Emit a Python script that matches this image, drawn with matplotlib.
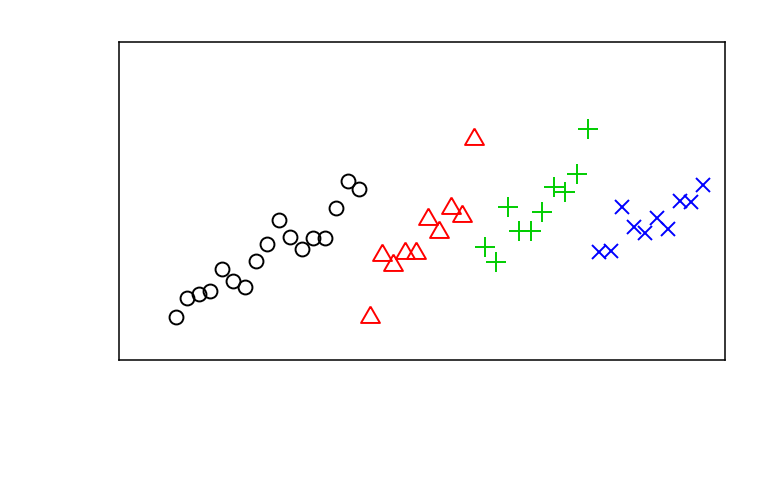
import numpy as np
import matplotlib
matplotlib.use("Agg")
import matplotlib.pyplot as plt

# index of each observation (4..50), grouped
idx_a = np.arange(4, 21)
idx_b = np.arange(21, 31)
idx_c = np.arange(31, 41)
idx_d = np.arange(41, 51)

# values
val_a = [4.3, 6.2, 6.6, 6.9, 9.1, 7.9, 7.3, 9.9, 11.6, 14.0, 12.3, 11.1, 12.2, 12.2, 15.2, 17.9, 17.1]
val_b = [4.3, 10.5, 9.5, 10.7, 10.7, 14.1, 12.8, 15.2, 14.4, 22.1]
val_c = [11.3, 9.8, 15.3, 12.9, 12.9, 14.8, 17.3, 16.8, 18.6, 23.1]
val_d = [10.8, 10.9, 15.3, 13.3, 12.7, 14.2, 13.1, 15.9, 15.8, 17.5]

fig = plt.figure(figsize=(7.68, 4.8), dpi=100)
ax = fig.add_axes([119/768, 120/480, 606/768, 318/480])

lw = 1.4
# R style triangle (pch 2), centred on centroid
tri = [(0, 1.555), (1.347, -0.778), (-1.347, -0.778), (0, 1.555)]

ax.plot(idx_a, val_a, linestyle="none", marker="o", markersize=10, mfc="none", mec="black", mew=lw)
ax.plot(idx_b, val_b, linestyle="none", marker=tri, markersize=15.7, mfc="none", mec="#FF0000", mew=lw)
ax.plot(idx_c, val_c, linestyle="none", marker="+", markersize=14.3, mec="#00CD00", mew=lw)
ax.plot(idx_d, val_d, linestyle="none", marker="x", markersize=10, mec="#0000FF", mew=lw)

ax.set_xlim(1 - 1.96, 50 + 1.96)
ax.set_ylim(0, 31.8)
ax.set_xticks([])
ax.set_yticks([])
for s in ax.spines.values():
    s.set_linewidth(1.1)

plt.savefig("out.png", dpi=100)
